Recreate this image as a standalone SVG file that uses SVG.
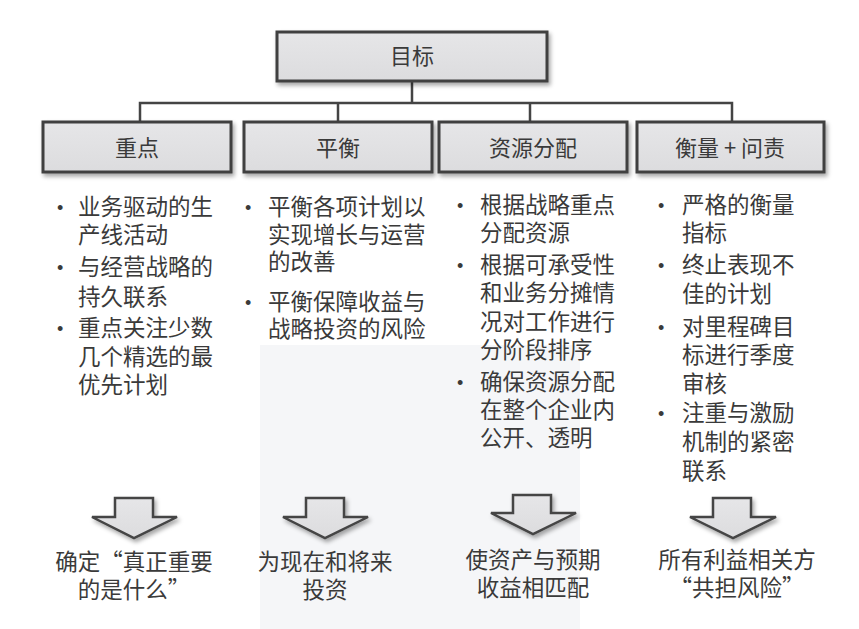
<svg xmlns="http://www.w3.org/2000/svg" width="859" height="629" viewBox="0 0 859 629">
  <defs>
    <filter id="shadow" x="-10%" y="-20%" width="125%" height="150%">
      <feDropShadow dx="2" dy="3" stdDeviation="2" flood-color="#000" flood-opacity="0.35"/>
    </filter>
    <linearGradient id="boxfill" x1="0" y1="0" x2="0" y2="1">
      <stop offset="0" stop-color="#e6e6e8"/>
      <stop offset="1" stop-color="#dcdcde"/>
    </linearGradient>
  </defs>
  <style>
    .box { fill: url(#boxfill); stroke: #3f3f3f; stroke-width: 3; filter: url(#shadow); }
    .arrow { fill: url(#boxfill); stroke: #444; stroke-width: 2.5; stroke-linejoin: miter; filter: url(#shadow); }
    .conn { fill: none; stroke: #444; stroke-width: 2.5; }
    text { font-family: "Noto Sans CJK SC", "Noto Sans", sans-serif; fill: #3a3a3a; }
    .title { font-size: 22px; text-anchor: middle; }
    .item { font-size: 22.5px; }
    .bul { font-family: "Liberation Sans", sans-serif; font-size: 18px; }
    .out { font-size: 22.5px; text-anchor: middle; }
  </style>
  <rect width="859" height="629" fill="#ffffff"/>
  <!-- faint background watermark -->
  <rect x="260" y="345" width="320" height="284" fill="#f5f6f8"/>

  <g id="connectors">
    <path class="conn" d="M412 81 V103 M140 122 V103 H732 V122 M338 103 V122 M530 103 V122"/>
  </g>

  <g id="node-goal">
    <rect class="box" x="277" y="32" width="270" height="49"/>
    <text class="title" x="412" y="64">目标</text>
  </g>

  <g id="node-focus">
    <rect class="box" x="43" y="122" width="188" height="50"/>
    <text class="title" x="137" y="156">重点</text>
  </g>
  <g id="node-balance">
    <rect class="box" x="244" y="122" width="188" height="50"/>
    <text class="title" x="338" y="156">平衡</text>
  </g>
  <g id="node-resource">
    <rect class="box" x="439" y="122" width="188" height="50"/>
    <text class="title" x="533" y="156">资源分配</text>
  </g>
  <g id="node-measure">
    <rect class="box" x="637" y="122" width="187" height="50"/>
    <text class="title" x="730" y="156">衡量 + 问责</text>
  </g>

  <g id="list-focus">
    <text class="bul" x="57" y="214">•</text>
    <text class="item" x="78" y="215">业务驱动的生</text>
    <text class="item" x="78" y="243">产线活动</text>
    <text class="bul" x="57" y="274">•</text>
    <text class="item" x="78" y="275">与经营战略的</text>
    <text class="item" x="78" y="305">持久联系</text>
    <text class="bul" x="57" y="335">•</text>
    <text class="item" x="78" y="336">重点关注少数</text>
    <text class="item" x="78" y="365">几个精选的最</text>
    <text class="item" x="78" y="393">优先计划</text>
  </g>

  <g id="list-balance">
    <text class="bul" x="245" y="214">•</text>
    <text class="item" x="268" y="215">平衡各项计划以</text>
    <text class="item" x="268" y="243">实现增长与运营</text>
    <text class="item" x="268" y="270">的改善</text>
    <text class="bul" x="245" y="309">•</text>
    <text class="item" x="268" y="310">平衡保障收益与</text>
    <text class="item" x="268" y="337">战略投资的风险</text>
  </g>

  <g id="list-resource">
    <text class="bul" x="457" y="212">•</text>
    <text class="item" x="480" y="213">根据战略重点</text>
    <text class="item" x="480" y="241">分配资源</text>
    <text class="bul" x="457" y="272">•</text>
    <text class="item" x="480" y="273">根据可承受性</text>
    <text class="item" x="480" y="301">和业务分摊情</text>
    <text class="item" x="480" y="330">况对工作进行</text>
    <text class="item" x="480" y="358">分阶段排序</text>
    <text class="bul" x="457" y="389">•</text>
    <text class="item" x="480" y="390">确保资源分配</text>
    <text class="item" x="480" y="418">在整个企业内</text>
    <text class="item" x="480" y="446">公开、透明</text>
  </g>

  <g id="list-measure">
    <text class="bul" x="658" y="212">•</text>
    <text class="item" x="682" y="213">严格的衡量</text>
    <text class="item" x="682" y="241">指标</text>
    <text class="bul" x="658" y="272">•</text>
    <text class="item" x="682" y="273">终止表现不</text>
    <text class="item" x="682" y="302">佳的计划</text>
    <text class="bul" x="658" y="334">•</text>
    <text class="item" x="682" y="335">对里程碑目</text>
    <text class="item" x="682" y="363">标进行季度</text>
    <text class="item" x="682" y="392">审核</text>
    <text class="bul" x="658" y="420">•</text>
    <text class="item" x="682" y="421">注重与激励</text>
    <text class="item" x="682" y="450">机制的紧密</text>
    <text class="item" x="682" y="479">联系</text>
  </g>

  <g id="arrow-1">
    <polygon class="arrow" points="115,498 153,498 153,517 177,517 134,538 92,517 115,517"/>
  </g>
  <g id="arrow-2">
    <polygon class="arrow" points="306,498 344,498 344,517 368,517 325,538 283,517 306,517"/>
  </g>
  <g id="arrow-3">
    <polygon class="arrow" points="513,495 551,495 551,513 576,513 533,534 491,513 513,513"/>
  </g>
  <g id="arrow-4">
    <polygon class="arrow" points="713,498 751,498 751,517 776,517 733,538 690,517 713,517"/>
  </g>

  <g id="outcome-1">
    <text class="out" x="134" y="570">确定“真正重要</text>
    <text class="out" x="134" y="598">的是什么”</text>
  </g>
  <g id="outcome-2">
    <text class="out" x="325" y="570">为现在和将来</text>
    <text class="out" x="325" y="598">投资</text>
  </g>
  <g id="outcome-3">
    <text class="out" x="533" y="568">使资产与预期</text>
    <text class="out" x="533" y="596">收益相匹配</text>
  </g>
  <g id="outcome-4">
    <text class="out" x="737" y="568">所有利益相关方</text>
    <text class="out" x="737" y="596">“共担风险”</text>
  </g>
</svg>
